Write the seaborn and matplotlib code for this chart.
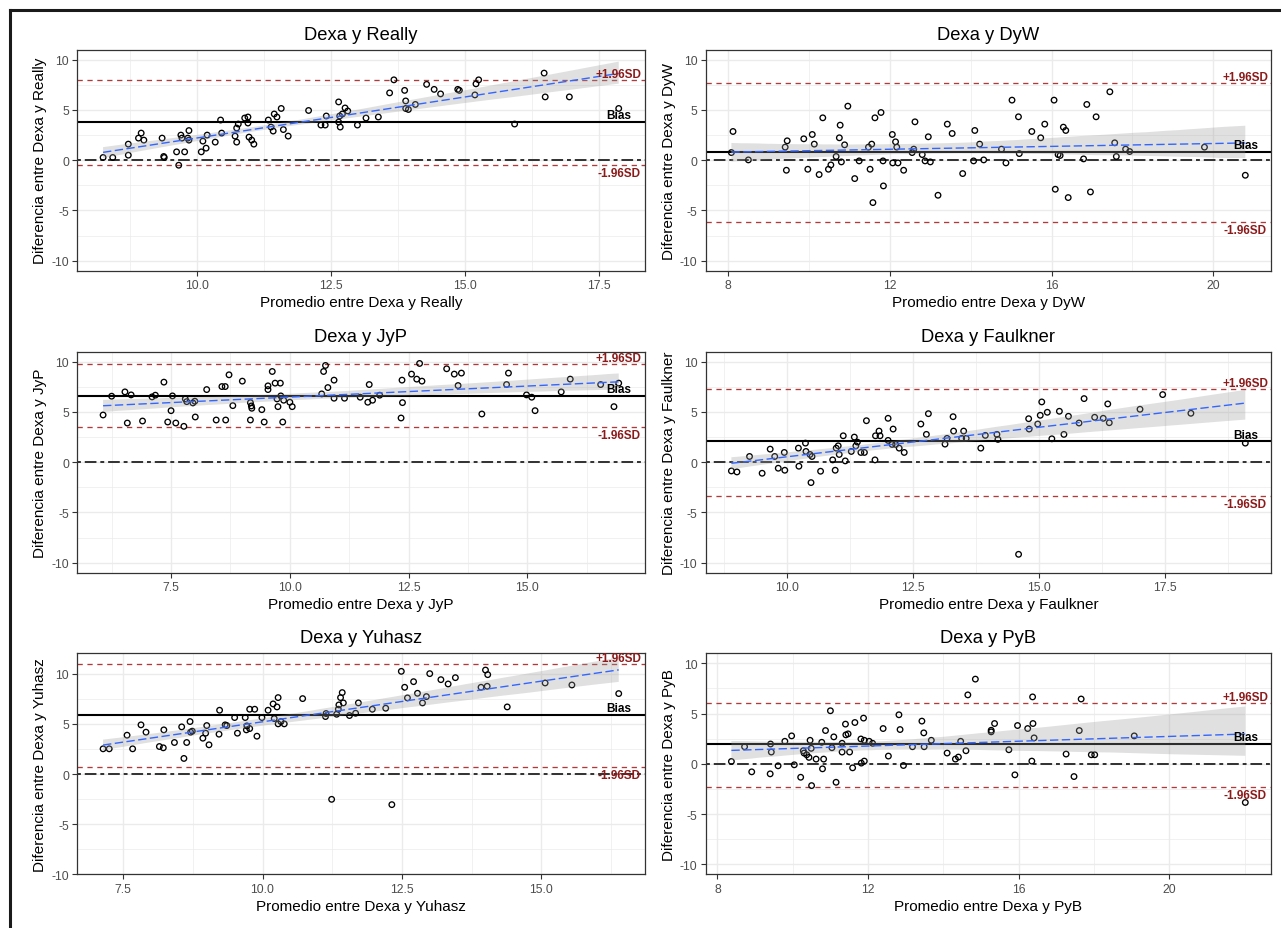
import matplotlib
matplotlib.use("Agg")
import matplotlib.pyplot as plt
from matplotlib.lines import Line2D
from matplotlib.ticker import MultipleLocator
import numpy as np
import pandas as pd
import seaborn as sns

# ---------------------------------------------------------------- data
methods = ["Really", "DyW", "JyP", "Faulkner", "Yuhasz", "PyB"]

really_x = [8.25, 8.43, 8.72, 8.72, 8.91, 8.96, 9.01, 9.35, 9.38, 9.39, 9.62, 9.66, 9.70, 9.72, 9.77, 9.83,
            9.85, 9.85, 10.08, 10.11, 10.17, 10.19, 10.34, 10.44, 10.46, 10.71, 10.74, 10.74, 10.77, 10.89,
            10.95, 10.95, 10.97, 11.02, 11.06, 11.33, 11.38, 11.42, 11.44, 11.49, 11.57, 11.61, 11.70, 12.08,
            12.31, 12.39, 12.41, 12.64, 12.64, 12.66, 12.67, 12.71, 12.76, 12.81, 12.99, 13.15, 13.38, 13.59,
            13.67, 13.87, 13.89, 13.89, 13.94, 14.07, 14.28, 14.42, 14.54, 14.86, 14.89, 15.18, 15.20, 15.25,
            15.92, 16.47, 16.49, 16.94, 17.86]
really_y = [0.27, 0.27, 1.6, 0.5, 2.2, 2.7, 2.0, 2.2, 0.37, 0.27, 0.83, -0.5, 2.5, 2.2, 0.83, 2.2, 2.95,
            2.0, 0.83, 1.9, 1.2, 2.5, 1.8, 4.0, 2.7, 2.4, 1.8, 3.2, 3.6, 4.2, 4.3, 3.7, 2.3, 2.0, 1.6, 4.0,
            3.3, 2.9, 4.6, 4.3, 5.15, 3.05, 2.4, 4.95, 3.5, 3.5, 4.4, 5.8, 3.8, 4.4, 3.3, 4.6, 5.2, 4.9, 3.5,
            4.2, 4.3, 6.7, 8.0, 6.95, 5.9, 5.15, 5.05, 5.55, 7.55, 7.05, 6.6, 7.05, 6.95, 6.5, 7.6, 8.0, 3.6,
            8.67, 6.3, 6.3, 5.15]

dyw_x = [8.12, 8.08, 8.50, 9.41, 9.46, 9.44, 9.87, 9.97, 10.08, 10.13, 10.25, 10.34, 10.48, 10.54, 10.67,
         10.75, 10.77, 10.80, 10.88, 10.96, 11.13, 11.24, 11.47, 11.51, 11.55, 11.58, 11.63, 11.78, 11.83,
         11.84, 12.06, 12.07, 12.14, 12.17, 12.20, 12.34, 12.55, 12.59, 12.62, 12.80, 12.87, 12.95, 13.00,
         13.19, 13.42, 13.54, 13.80, 14.07, 14.10, 14.22, 14.32, 14.76, 14.87, 15.02, 15.18, 15.20, 15.51,
         15.73, 15.83, 16.06, 16.09, 16.16, 16.21, 16.29, 16.35, 16.41, 16.79, 16.87, 16.96, 17.10, 17.44,
         17.56, 17.60, 17.83, 17.93, 19.78, 20.79]
dyw_y = [2.86, 0.76, 0.03, 1.3, 1.93, -1.0, 2.13, -0.9, 2.56, 1.6, -1.43, 4.22, -0.9, -0.47, 0.37, 2.23,
         3.49, -0.17, 1.53, 5.38, -1.83, -0.07, 1.3, -0.9, 1.6, -4.22, 4.22, 4.75, -0.07, -2.56, 2.56, -0.27,
         1.83, 1.3, -0.27, -1.0, 0.76, 1.1, 3.82, 0.56, -0.07, 2.33, -0.17, -3.49, 3.59, 2.66, -1.33, -0.07,
         2.96, 1.6, 0.03, 1.1, -0.27, 5.98, 4.32, 0.66, 2.86, 2.23, 3.59, 5.98, -2.89, 0.56, 0.47, 3.29, 2.96,
         -3.72, 0.13, 5.55, -3.16, 4.32, 6.81, 1.73, 0.37, 1.1, 0.86, 1.3, -1.5]

jyp_x = [6.07, 6.25, 6.53, 6.58, 6.66, 6.90, 7.10, 7.17, 7.35, 7.43, 7.50, 7.53, 7.60, 7.77, 7.80, 7.83,
         7.96, 8.00, 8.01, 8.25, 8.45, 8.57, 8.64, 8.65, 8.72, 8.80, 9.00, 9.17, 9.17, 9.19, 9.20, 9.41, 9.46,
         9.54, 9.54, 9.63, 9.69, 9.73, 9.75, 9.80, 9.81, 9.85, 9.87, 10.00, 10.05, 10.67, 10.71, 10.75, 10.80,
         10.93, 10.93, 11.15, 11.48, 11.64, 11.67, 11.74, 11.89, 12.34, 12.36, 12.37, 12.56, 12.67, 12.73,
         12.78, 13.30, 13.46, 13.54, 13.61, 14.04, 14.56, 14.60, 14.98, 15.09, 15.16, 15.71, 15.90, 16.54,
         16.82, 16.92]
jyp_y = [4.7, 6.57, 7.0, 3.9, 6.7, 4.1, 6.5, 6.67, 7.97, 4.0, 5.13, 6.6, 3.9, 3.57, 6.3, 6.03, 5.9, 6.07,
         4.5, 7.23, 4.2, 7.53, 7.53, 4.2, 8.7, 5.63, 8.07, 5.93, 4.2, 5.6, 5.37, 5.23, 4.0, 7.6, 7.23, 9.03,
         7.87, 6.3, 5.53, 7.87, 6.6, 4.0, 6.17, 5.97, 5.53, 6.8, 9.03, 9.63, 7.43, 8.17, 6.37, 6.37, 6.47,
         5.97, 7.73, 6.17, 6.67, 4.4, 8.17, 5.93, 8.77, 8.27, 9.83, 8.07, 9.3, 8.77, 7.63, 8.87, 4.8, 7.73,
         8.87, 6.7, 6.47, 5.13, 7.0, 8.27, 7.73, 5.53, 7.87]

faulkner_x = [8.89, 9.00, 9.25, 9.50, 9.66, 9.75, 9.82, 9.94, 9.95, 10.22, 10.23, 10.36, 10.37, 10.45,
              10.47, 10.49, 10.66, 10.90, 10.95, 10.97, 11.01, 11.03, 11.11, 11.15, 11.27, 11.33, 11.36,
              11.39, 11.46, 11.53, 11.57, 11.74, 11.75, 11.82, 11.84, 12.00, 12.00, 12.08, 12.10, 12.15,
              12.22, 12.32, 12.65, 12.76, 12.80, 13.13, 13.17, 13.29, 13.30, 13.46, 13.50, 13.55, 13.84,
              13.93, 14.16, 14.18, 14.59, 14.79, 14.80, 14.97, 15.02, 15.05, 15.16, 15.25, 15.40, 15.49,
              15.58, 15.79, 15.89, 16.10, 16.27, 16.36, 16.39, 17.00, 17.45, 18.01, 19.09]
faulkner_y = [-0.87, -0.97, 0.57, -1.1, 1.3, 0.57, -0.6, 0.97, -0.8, 1.4, -0.4, 1.9, 1.07, 0.77, -2.03,
              0.57, -0.9, 0.23, -0.8, 1.4, 1.63, 0.77, 2.63, 0.13, 1.07, 2.5, 1.63, 2.0, 0.97, 0.97, 4.13,
              0.23, 2.63, 3.1, 2.63, 4.37, 2.17, 1.77, 3.3, 1.77, 1.4, 0.97, 3.8, 2.77, 4.83, 1.8, 2.37, 4.53,
              3.1, 2.37, 3.1, 2.37, 1.4, 2.67, 2.77, 2.27, -9.17, 4.33, 3.3, 3.8, 4.67, 6.0, 4.97, 2.33, 5.07,
              2.77, 4.57, 3.9, 6.33, 4.47, 4.37, 5.8, 3.93, 5.27, 6.73, 4.87, 1.9]

yuhasz_x = [7.14, 7.25, 7.57, 7.67, 7.82, 7.91, 8.15, 8.22, 8.23, 8.42, 8.55, 8.59, 8.64, 8.70, 8.71, 8.74,
            8.93, 9.00, 8.98, 9.04, 9.22, 9.23, 9.33, 9.36, 9.50, 9.55, 9.69, 9.71, 9.72, 9.77, 9.77, 9.86,
            9.90, 9.99, 10.10, 10.19, 10.21, 10.26, 10.28, 10.28, 10.33, 10.39, 10.72, 11.13, 11.14, 11.24,
            11.33, 11.36, 11.37, 11.40, 11.43, 11.45, 11.56, 11.67, 11.72, 11.97, 12.21, 12.32, 12.49, 12.55,
            12.60, 12.71, 12.78, 12.87, 12.94, 13.00, 13.20, 13.33, 13.46, 13.92, 14.00, 14.04, 14.03, 14.39,
            15.07, 15.55, 16.39]
yuhasz_y = [2.52, 2.52, 3.88, 2.52, 4.91, 4.18, 2.75, 2.62, 4.41, 3.15, 4.71, 1.56, 3.15, 5.24, 4.18, 4.28,
            3.58, 4.84, 4.08, 2.92, 3.98, 6.37, 4.91, 4.84, 5.64, 4.08, 5.64, 4.41, 4.81, 4.54, 6.47, 6.47,
            3.78, 5.64, 6.37, 7.0, 5.54, 6.7, 7.63, 5.01, 5.24, 5.01, 7.53, 5.74, 6.04, -2.52, 5.97, 6.47,
            6.9, 7.63, 8.13, 7.1, 5.84, 6.07, 7.1, 6.47, 6.57, -3.05, 10.25, 8.66, 7.6, 9.22, 8.06, 7.1,
            7.73, 10.02, 9.42, 8.99, 9.62, 8.66, 10.38, 9.92, 8.76, 6.7, 9.09, 8.89, 8.03]

pyb_x = [8.37, 8.72, 8.91, 9.40, 9.41, 9.43, 9.61, 9.79, 9.97, 10.04, 10.21, 10.28, 10.30, 10.37, 10.43,
         10.46, 10.49, 10.50, 10.62, 10.77, 10.79, 10.82, 10.87, 11.00, 11.04, 11.09, 11.15, 11.31, 11.31,
         11.40, 11.41, 11.47, 11.51, 11.59, 11.65, 11.81, 11.82, 11.88, 11.90, 11.90, 12.03, 12.12, 12.40,
         12.54, 12.82, 12.85, 12.94, 13.18, 13.43, 13.48, 13.49, 13.68, 14.10, 14.32, 14.40, 14.46, 14.60,
         14.65, 14.85, 15.27, 15.27, 15.36, 15.74, 15.90, 15.97, 16.24, 16.35, 16.37, 16.38, 16.41, 17.26,
         17.47, 17.61, 17.66, 17.93, 18.02, 19.07, 22.02]
pyb_y = [0.23, 1.7, -0.8, -1.0, 1.97, 1.17, -0.2, 2.24, 2.78, -0.1, -1.34, 1.3, 1.07, 0.9, 0.64, 2.34, 1.54,
         -2.17, 0.47, 2.14, -0.5, 0.47, 3.31, 5.28, 1.6, 2.68, -1.84, 2.04, 1.17, 3.95, 2.88, 2.98, 1.17,
         -0.4, 4.11, 2.47, 0.07, 4.55, 2.34, 0.27, 2.24, 2.04, 3.51, 0.77, 4.88, 3.41, -0.17, 1.7, 4.25, 3.08,
         1.7, 2.34, 1.07, 0.47, 0.67, 2.24, 1.3, 6.86, 8.43, 3.34, 3.18, 4.01, 1.4, -1.1, 3.81, 3.51, 0.27,
         6.66, 4.01, 2.58, 0.97, -1.27, 3.31, 6.45, 0.9, 0.9, 2.78, -3.85]

bias = [3.82, 0.83, 6.63, 2.07, 5.94, 1.97]
upper_loa = [7.97, 7.64, 9.73, 7.27, 10.95, 6.02]
lower_loa = [-0.50, -6.15, 3.47, -3.33, 0.73, -2.31]

x_ticks = [[10.0, 12.5, 15.0, 17.5], [8, 12, 16, 20], [7.5, 10.0, 12.5, 15.0],
           [10.0, 12.5, 15.0, 17.5], [7.5, 10.0, 12.5, 15.0], [8, 12, 16, 20]]
x_tick_labels = [["10.0", "12.5", "15.0", "17.5"], ["8", "12", "16", "20"], ["7.5", "10.0", "12.5", "15.0"],
                 ["10.0", "12.5", "15.0", "17.5"], ["7.5", "10.0", "12.5", "15.0"], ["8", "12", "16", "20"]]
y_ticks = [-10, -5, 0, 5, 10]
y_tick_labels = ["-10", "-5", "0", "5", "10"]

xs = [really_x, dyw_x, jyp_x, faulkner_x, yuhasz_x, pyb_x]
ys = [really_y, dyw_y, jyp_y, faulkner_y, yuhasz_y, pyb_y]

# ---------------------------------------------------------------- style
sns.set_theme(style="white")
plt.rcParams["font.family"] = ["Liberation Sans", "DejaVu Sans"]

W, H = 1281, 929
fig = plt.figure(figsize=(W / 100, H / 100), dpi=100)
fig.patch.set_facecolor("white")

col_left = [77.3, 705.7]
col_width = [567.2, 565.3]
row_top = [50.7, 352.7, 654.3]
ax_h = 221.0

SD_LINE = "#B03A3A"
SD_TEXT = "#8B1A1A"

for i, name in enumerate(methods):
    r, c = divmod(i, 2)
    ax = fig.add_axes([col_left[c] / W, 1 - (row_top[r] + ax_h) / H, col_width[c] / W, ax_h / H])
    df = pd.DataFrame({"promedio": xs[i], "diferencia": ys[i]})

    # reference lines
    ax.axhline(bias[i], color="black", lw=1.5, zorder=2)
    ax.axhline(0, color="#303030", lw=1.4, dashes=(2, 2, 6, 2), zorder=2)
    ax.axhline(upper_loa[i], color=SD_LINE, lw=0.95, dashes=(4, 3.5), zorder=2)
    ax.axhline(lower_loa[i], color=SD_LINE, lw=0.95, dashes=(4, 3.5), zorder=2)

    # points
    sns.scatterplot(data=df, x="promedio", y="diferencia", ax=ax, marker="o", s=16,
                    facecolor="none", edgecolor="black", linewidth=0.95, zorder=2.2)

    # linear fit with confidence band
    sns.regplot(data=df, x="promedio", y="diferencia", ax=ax, scatter=False, ci=95, n_boot=1000,
                seed=3, color="#3366FF", truncate=True,
                line_kws=dict(lw=1.0, dashes=(6, 2.5), zorder=3.2))
    band = ax.collections[-1]
    band.set_facecolor("#999999")
    band.set_alpha(0.3)
    band.set_edgecolor("none")
    band.set_zorder(3)

    # labels on the right
    xm = max(xs[i])
    ax.annotate("+1.96SD", xy=(xm, upper_loa[i]), xytext=(0, 0), textcoords="offset points",
                ha="center", va="bottom", color=SD_TEXT, fontsize=8.5, fontweight="bold", zorder=5,
                annotation_clip=False, clip_on=True)
    ax.annotate("Bias", xy=(xm, bias[i]), xytext=(0, 0.5), textcoords="offset points",
                ha="center", va="bottom", color="black", fontsize=8.5, fontweight="bold", zorder=5,
                annotation_clip=False, clip_on=True)
    ax.annotate("-1.96SD", xy=(xm, lower_loa[i]), xytext=(0, -1.5), textcoords="offset points",
                ha="center", va="top", color=SD_TEXT, fontsize=8.5, fontweight="bold", zorder=5,
                annotation_clip=False, clip_on=True)

    # limits
    lo, hi = min(xs[i]), max(xs[i])
    pad = 0.05 * (hi - lo)
    ax.set_xlim(lo - pad, hi + pad)
    if name == "Yuhasz":
        ax.set_ylim(-10, 12.05)
    else:
        ax.set_ylim(-11, 11)

    # ticks and grid
    ax.set_xticks(x_ticks[i], x_tick_labels[i])
    ax.set_yticks(y_ticks, y_tick_labels)
    step = x_ticks[i][1] - x_ticks[i][0]
    ax.xaxis.set_minor_locator(MultipleLocator(step / 2))
    ax.yaxis.set_minor_locator(MultipleLocator(2.5))
    ax.set_facecolor("white")
    ax.grid(which="major", color="#EBEBEB", lw=1.0)
    ax.grid(which="minor", color="#EBEBEB", lw=0.5)
    ax.set_axisbelow(True)
    ax.tick_params(which="major", bottom=True, left=True, length=3.5, width=0.8, color="#333333",
                   labelsize=8.8, labelcolor="#4D4D4D", pad=2.5)
    ax.tick_params(which="minor", length=0)
    for s in ax.spines.values():
        s.set_visible(True)
        s.set_color("#333333")
        s.set_linewidth(0.9)

    ax.set_title(f"Dexa y {name}", fontsize=13.2, color="black", pad=8)
    ax.set_xlabel(f"Promedio entre Dexa y {name}", fontsize=11, color="black", labelpad=3)
    ax.set_ylabel(f"Diferencia entre Dexa y {name}", fontsize=11, color="black", labelpad=3)

# outer frame (cropped L-shape)
fig.add_artist(Line2D([10 / W, 10 / W], [0, 1 - 11 / H], transform=fig.transFigure,
                      color="#1A1A1A", lw=2.2, solid_capstyle="projecting"))
fig.add_artist(Line2D([10 / W, 1], [1 - 11 / H, 1 - 11 / H], transform=fig.transFigure,
                      color="#1A1A1A", lw=2.2, solid_capstyle="projecting"))

fig.savefig("out.png", dpi=100, facecolor="white")
